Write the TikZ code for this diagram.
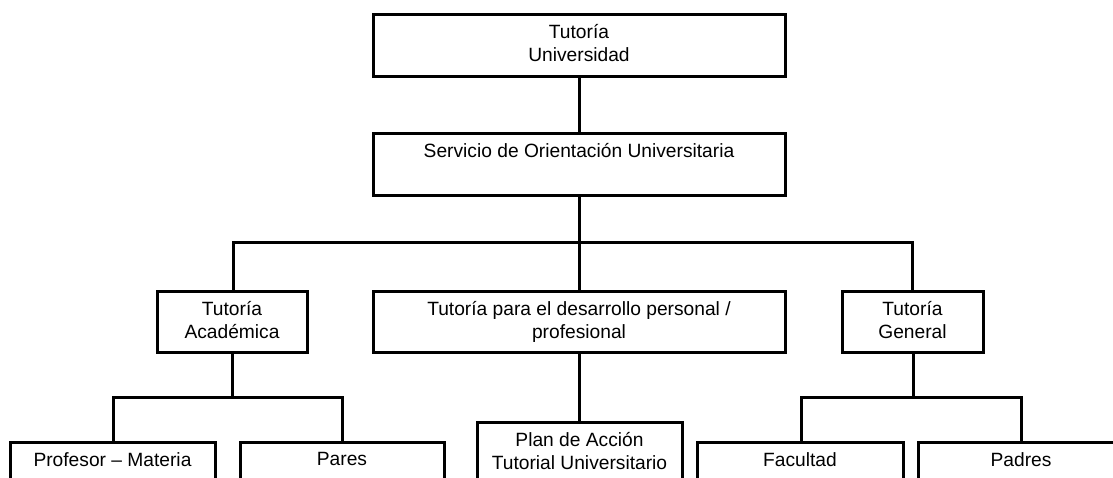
\documentclass[tikz,border=0pt]{standalone}
\usepackage{fontspec}
\setmainfont{Liberation Sans}
\begin{document}
\begin{tikzpicture}[x=1pt,y=-1pt,
  box/.style={draw=black, line width=3pt, inner sep=0pt, rectangle},
  txt/.style={anchor=north, inner sep=0pt, align=center, font=\fontsize{19.2}{23}\selectfont},
  conn/.style={draw=black, line width=3pt}]
\useasboundingbox (0,0) rectangle (1113,477);
\clip (0,0) rectangle (1113,477);
% boxes
\node[box, minimum width=412pt, minimum height=62pt] (top) at (579,45) {};
\node[box, minimum width=412pt, minimum height=62pt] (sou) at (579,164) {};
\node[box, minimum width=150pt, minimum height=61pt] (ta) at (232,321.5) {};
\node[box, minimum width=412pt, minimum height=61pt] (tp) at (579,321.5) {};
\node[box, minimum width=141pt, minimum height=61pt] (tg) at (912.5,321.5) {};
\node[box, minimum width=205pt, minimum height=60pt] (prof) at (112.5,472) {};
\node[box, minimum width=204pt, minimum height=60pt] (pares) at (342,472) {};
\node[box, minimum width=205pt, minimum height=60pt] (plan) at (579.5,452) {};
\node[box, minimum width=206pt, minimum height=60pt] (fac) at (800,472) {};
\node[box, minimum width=206pt, minimum height=60pt] (pad) at (1021,472) {};
% texts
\node[txt] (ttop) at ([yshift=-12pt]top.north) {Tutoría\\Universidad};
\node[txt] (tsou) at ([yshift=-12pt]sou.north) {Servicio de Orientación Universitaria};
\node[txt] (tta) at ([yshift=-12pt]ta.north) {Tutoría\\Académica};
\node[txt] (ttp) at ([yshift=-12pt]tp.north) {Tutoría para el desarrollo personal /\\profesional};
\node[txt] (ttg) at ([yshift=-12pt]tg.north) {Tutoría\\General};
\node[txt] (tprof) at ([yshift=-12pt]prof.north) {Profesor – Materia};
\node[txt] (tpares) at ([yshift=-12pt]pares.north) {Pares};
\node[txt] (tplan) at ([yshift=-12pt]plan.north) {Plan de Acción\\Tutorial Universitario};
\node[txt] (tfac) at ([yshift=-12pt]fac.north) {Facultad};
\node[txt] (tpad) at ([yshift=-12pt]pad.north) {Padres};
% junctions
\coordinate (j1) at (579,242);
\coordinate (jl) at (233,242);
\coordinate (jr) at (912,242);
\coordinate (j2) at (232,397);
\coordinate (j2l) at (113,397);
\coordinate (j2r) at (342,397);
\coordinate (j3) at (913,397);
\coordinate (j3l) at (801,397);
\coordinate (j3r) at (1021,397);
% connectors
\draw[conn] (top.south -| j1) -- (sou.north -| j1);
\draw[conn] (sou.south -| j1) -- (tp.north -| j1);
\draw[conn] (ta.north -| jl) -- (jl) -- (jr) -- (tg.north -| jr);
\draw[conn] (ta.south -| j2) -- (j2);
\draw[conn] (prof.north -| j2l) -- (j2l) -- (j2r) -- (pares.north -| j2r);
\draw[conn] (tp.south -| j1) -- (plan.north -| j1);
\draw[conn] (tg.south -| j3) -- (j3);
\draw[conn] (fac.north -| j3l) -- (j3l) -- (j3r) -- (pad.north -| j3r);
\end{tikzpicture}
\end{document}
